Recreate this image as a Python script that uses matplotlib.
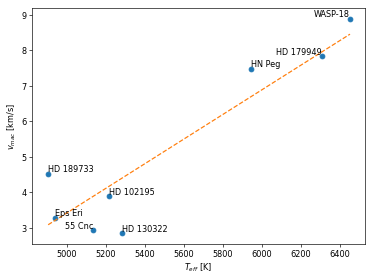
import numpy as np
import matplotlib
matplotlib.use('Agg')
import matplotlib.pyplot as plt

# estrelas, Teff e vmac
nomes = ['WASP-18', 'HD 179949', 'HN Peg', 'HD 189733', 'HD 102195',
         'Eps Eri', '55 Cnc', 'HD 130322']
teff = np.array([6451, 6308, 5944, 4903, 5215, 4938, 5133, 5282])
vmac = np.array([8.89, 7.83, 7.49, 4.52, 3.89, 3.28, 2.92, 2.84])
alinhamento = ['right', 'right', 'left', 'left', 'left', 'left', 'right', 'left']

coef = [0.003475, -13.958]
x_fit = np.array([teff.min(), teff.max()])

plt.figure(figsize=(6.4, 4.8), dpi=374 / 6.4)
plt.scatter(teff, vmac, color='C0')
plt.plot(x_fit, np.polyval(coef, x_fit), '--', color='C1')

for nome, x, y, ha in zip(nomes, teff, vmac, alinhamento):
    plt.text(x, y, nome, ha=ha, va='bottom')

plt.xlabel('$T_{eff}$ [K]')
plt.ylabel('$v_{mac}$ [km/s]')
plt.xlim(4821, 6528)
plt.ylim(2.55, 9.2)
plt.subplots_adjust(left=0.086, right=0.976, top=0.970, bottom=0.130)
plt.savefig('out.png')
